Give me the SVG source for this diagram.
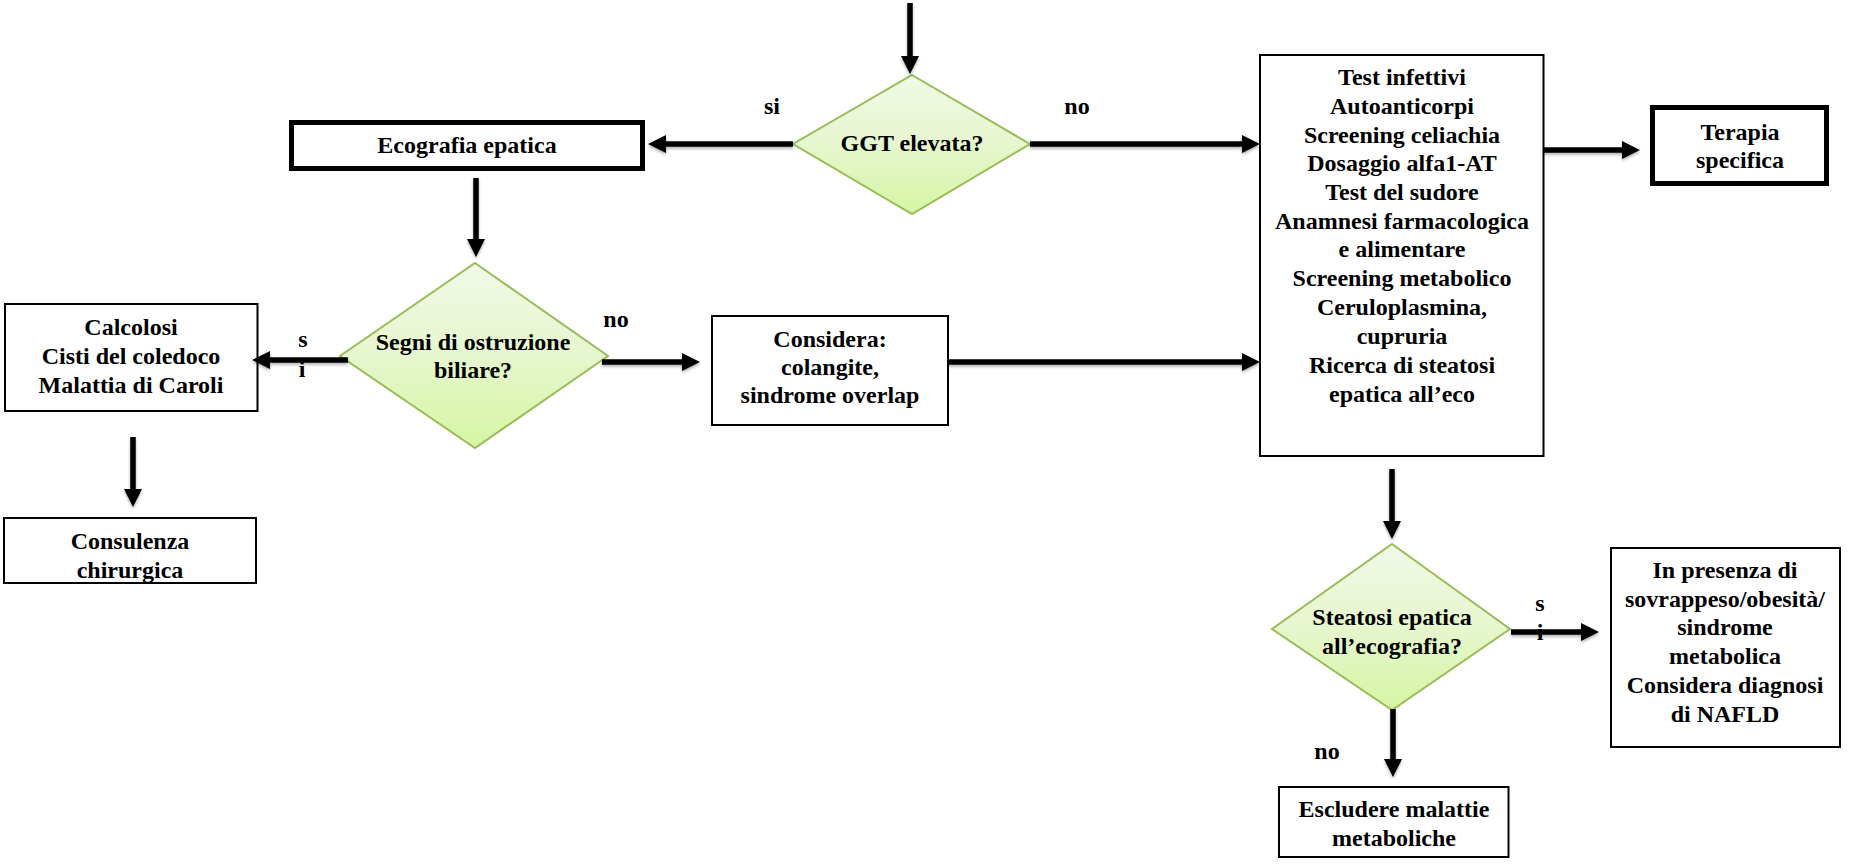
<svg xmlns="http://www.w3.org/2000/svg" width="1854" height="865" viewBox="0 0 1854 865">
<style>
text{font-family:"Liberation Serif","Times New Roman",serif;font-weight:bold;font-size:24px;fill:#000;text-anchor:middle}
.box{fill:#fff;stroke:#000;stroke-width:2}
.thick{fill:#fff;stroke:#000;stroke-width:5}
.dia{fill:url(#gr);stroke:#9BBB59;stroke-width:2}
.con{fill:none;stroke:#000;stroke-width:5.5;marker-end:url(#ah)}
</style>
<defs>
<linearGradient id="gr" x1="0" y1="0" x2="0" y2="1">
<stop offset="0" stop-color="#F1F9E6"/>
<stop offset="0.5" stop-color="#E6F6CE"/>
<stop offset="1" stop-color="#D5F6A2"/>
</linearGradient>
<marker id="ah" markerUnits="userSpaceOnUse" viewBox="0 0 18 18" markerWidth="18" markerHeight="18" refX="8" refY="9" orient="auto">
<path d="M0,0 L18,9 L0,18 Z" fill="#000"/>
</marker>
<filter id="sh" x="-10%" y="-50%" width="120%" height="200%">
<feDropShadow dx="0" dy="2" stdDeviation="1.5" flood-color="#000" flood-opacity="0.3"/>
</filter>
</defs>
<rect width="1854" height="865" fill="#fff"/>

<g id="ecografia">
<rect class="thick" x="291.5" y="122.5" width="351" height="46"/>
<text x="467" y="153">Ecografia epatica</text>
</g>
<g id="ggt">
<polygon class="dia" points="912,75 1030,144 912,214 793,144"/>
<text x="912" y="151">GGT elevata?</text>
</g>
<g id="test">
<rect class="box" x="1260" y="55" width="283.5" height="401"/>
<text x="1402" y="85">Test infettivi</text>
<text x="1402" y="114">Autoanticorpi</text>
<text x="1402" y="142.5">Screening celiachia</text>
<text x="1402" y="171">Dosaggio alfa1-AT</text>
<text x="1402" y="200">Test del sudore</text>
<text x="1402" y="228.5">Anamnesi farmacologica</text>
<text x="1402" y="257">e alimentare</text>
<text x="1402" y="286">Screening metabolico</text>
<text x="1402" y="315">Ceruloplasmina,</text>
<text x="1402" y="343.5">cupruria</text>
<text x="1402" y="372.5">Ricerca di steatosi</text>
<text x="1402" y="401.5">epatica all’eco</text>
</g>
<g id="terapia">
<rect class="thick" x="1652.5" y="107.5" width="174" height="76"/>
<text x="1740" y="140">Terapia</text>
<text x="1740" y="168">specifica</text>
</g>
<g id="segni">
<polygon class="dia" points="475,263 608,356 475,448 340,356"/>
<text x="473" y="350">Segni di ostruzione</text>
<text x="473" y="378">biliare?</text>
</g>
<g id="calcolosi">
<rect class="box" x="5" y="304" width="252.5" height="107"/>
<text x="131" y="335">Calcolosi</text>
<text x="131" y="364">Cisti del coledoco</text>
<text x="131" y="393">Malattia di Caroli</text>
</g>
<g id="consulenza">
<rect class="box" x="4" y="518" width="252" height="65"/>
<text x="130" y="549">Consulenza</text>
<text x="130" y="578">chirurgica</text>
</g>
<g id="considera">
<rect class="box" x="712" y="316" width="236" height="109"/>
<text x="830" y="347">Considera:</text>
<text x="830" y="375">colangite,</text>
<text x="830" y="403">sindrome overlap</text>
</g>
<g id="steatosi">
<polygon class="dia" points="1392,544 1510,629 1392,710 1272,629"/>
<text x="1392" y="625">Steatosi epatica</text>
<text x="1392" y="654">all’ecografia?</text>
</g>
<g id="nafld">
<rect class="box" x="1611" y="548" width="229" height="199"/>
<text x="1725" y="578">In presenza di</text>
<text x="1725" y="607">sovrappeso/obesità/</text>
<text x="1725" y="635">sindrome</text>
<text x="1725" y="664">metabolica</text>
<text x="1725" y="693">Considera diagnosi</text>
<text x="1725" y="722">di NAFLD</text>
</g>
<g id="escludere">
<rect class="box" x="1279" y="787" width="229.5" height="70"/>
<text x="1394" y="817">Escludere malattie</text>
<text x="1394" y="846">metaboliche</text>
</g>

<g id="connectors">
<text x="772" y="114">si</text>
<text x="1077" y="114">no</text>
<text x="303" y="347">s</text>
<text x="302" y="377">i</text>
<text x="616" y="327">no</text>
<text x="1540" y="611">s</text>
<text x="1540" y="640">i</text>
<text x="1327" y="759">no</text>
<g filter="url(#sh)">
<path class="con" d="M910,3 V64"/>
<path class="con" d="M793,144 H658"/>
<path class="con" d="M1030,144 H1250"/>
<path class="con" d="M476,178 V247"/>
<path class="con" d="M348,360 H262"/>
<path class="con" d="M602,362 H690"/>
<path class="con" d="M133,437 V497"/>
<path class="con" d="M948,362 H1250"/>
<path class="con" d="M1543,150 H1630"/>
<path class="con" d="M1392,469 V529"/>
<path class="con" d="M1511,632 H1589"/>
<path class="con" d="M1393,709 V767"/>
</g>
</g>
</svg>
